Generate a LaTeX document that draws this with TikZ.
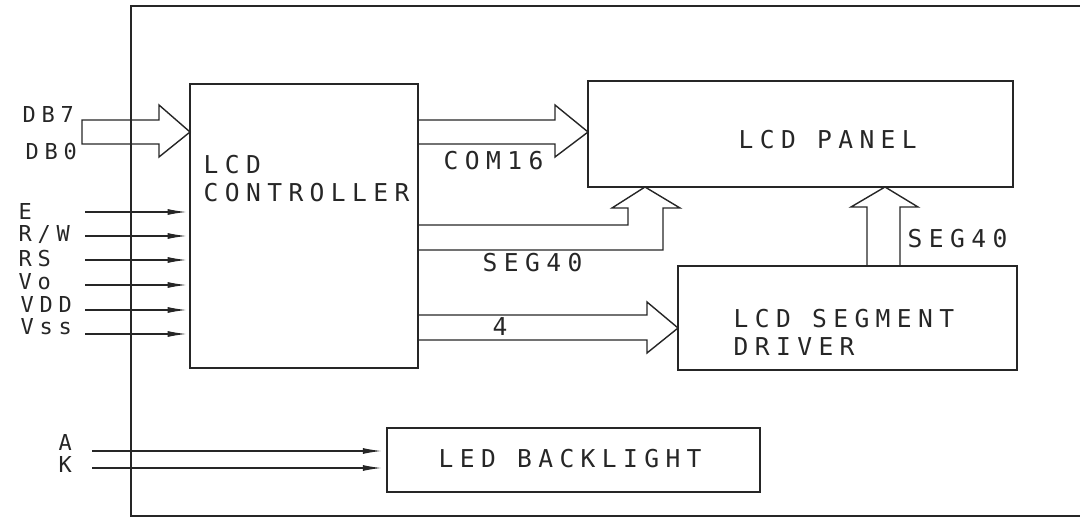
\documentclass[tikz,border=0pt]{standalone}
\usepackage{fontspec}
\setmainfont{DejaVu Sans Mono}[LetterSpace=26]
\usepackage{tikz}
\usetikzlibrary{arrows.meta}

\tikzset{
  blk/.style={draw,inner sep=0pt,outer sep=0pt},
  lbl/.style={inner sep=0pt,anchor=west},
  pin/.style={lbl,font=\fontsize{12.5}{15}\selectfont},
  bus/.style={draw,line join=miter},
  sig/.style={-{Latex[length=11pt,width=3.4pt]},shorten >=1.7pt}
}

\begin{document}
\begin{tikzpicture}[x=0.02cm,y=-0.02cm,line width=0.8pt,black!85,
    font=\fontsize{14}{15.9}\selectfont]
  \useasboundingbox (0,0) rectangle (1080,517);
  % module outline, open on the right
  \draw (1080,6) -- (131,6) -- (131,516) -- (1080,516);
  % blocks
  \node[blk,minimum width=4.56cm,minimum height=5.68cm] (ctrl) at (304,226) {};
  \node[blk,minimum width=8.5cm,minimum height=2.12cm] (panel) at (800.5,134) {};
  \node[blk,minimum width=6.78cm,minimum height=2.08cm] (driver) at (847.5,318) {};
  \node[blk,minimum width=7.46cm,minimum height=1.28cm] (led) at (573.5,460) {};
  \node[lbl,anchor=north west,align=left] (ctrlT) at (203,155) {LCD\\CONTROLLER};
  \node[lbl] (panelT) at (738,140) {LCD PANEL};
  \node[lbl,anchor=north west,align=left] (driverT) at (733,309) {LCD SEGMENT\\DRIVER};
  \node[lbl] (ledT) at (438,459) {LED BACKLIGHT};
  % data bus in
  \node[pin] (db7) at (22,114) {DB7};
  \node[pin] (db0) at (25,152) {DB0};
  \draw[bus] (82,144) -- (82,120) -- (159,120) -- (159,105)
        -- (ctrl.west |- 0,132) -- (159,157) -- (159,144) -- cycle;
  % control lines
  \node[pin] (lE) at (18,211) {E};
  \node[pin] (lRW) at (18,235) {R/W};
  \node[pin] (lRS) at (18,259) {RS};
  \node[pin] (lVo) at (18,282) {Vo};
  \node[pin] (lVDD) at (20,304) {VDD};
  \node[pin] (lVss) at (20,327) {Vss};
  \coordinate (inE) at (85,212);
  \coordinate (inRW) at (85,236);
  \coordinate (inRS) at (85,260);
  \coordinate (inVo) at (85,285);
  \coordinate (inVDD) at (85,310);
  \coordinate (inVss) at (85,334);
  \draw[sig] (inE) -- (inE -| ctrl.west);
  \draw[sig] (inRW) -- (inRW -| ctrl.west);
  \draw[sig] (inRS) -- (inRS -| ctrl.west);
  \draw[sig] (inVo) -- (inVo -| ctrl.west);
  \draw[sig] (inVDD) -- (inVDD -| ctrl.west);
  \draw[sig] (inVss) -- (inVss -| ctrl.west);
  % COM16 to panel
  \draw[bus] (ctrl.east |- 0,120) -- (555,120) -- (555,105)
        -- (panel.west |- 0,132) -- (555,157) -- (555,144) -- (ctrl.east |- 0,144);
  \node[lbl] (com) at (443,161) {COM16};
  % SEG40 to panel
  \draw[bus] (ctrl.east |- 0,225) -- (628,225) -- (628,208) -- (612,208)
        -- (panel.south -| 645,0) -- (680,208) -- (663,208) -- (663,250)
        -- (ctrl.east |- 0,250);
  \node[lbl] (segA) at (482,263) {SEG40};
  % 4 lines to segment driver
  \draw[bus] (ctrl.east |- 0,315) -- (647,315) -- (647,302)
        -- (driver.west |- 0,328) -- (647,353) -- (647,340) -- (ctrl.east |- 0,340);
  \node[lbl] (four) at (492,327) {4};
  % driver to panel
  \draw[bus] (driver.north -| 867,0) -- (867,207) -- (851,207)
        -- (panel.south -| 885,0) -- (918,207) -- (900,207) -- (driver.north -| 900,0);
  \node[lbl] (segB) at (907,239) {SEG40};
  % backlight
  \node[pin] (lA) at (58,442) {A};
  \node[pin] (lK) at (58,464) {K};
  \coordinate (inA) at (92,451);
  \coordinate (inK) at (92,468);
  \draw[sig,shorten >=2.8pt] (inA) -- (inA -| led.west);
  \draw[sig,shorten >=2.8pt] (inK) -- (inK -| led.west);
\end{tikzpicture}
\end{document}
